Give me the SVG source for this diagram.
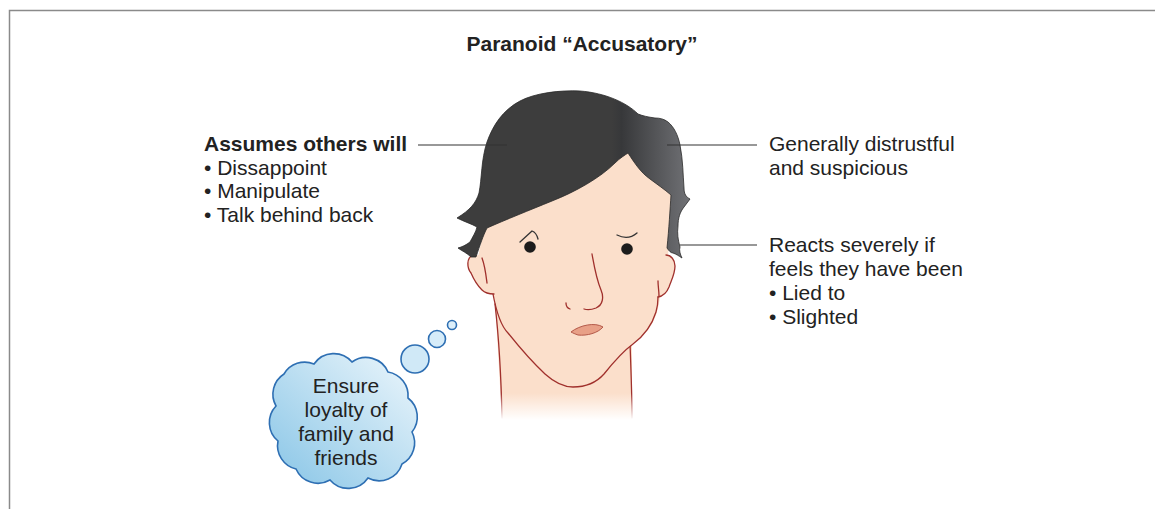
<svg xmlns="http://www.w3.org/2000/svg" width="1155" height="509" viewBox="0 0 1155 509">
  <style>
    .lbl { font-family: "Liberation Sans", Arial, sans-serif; font-size: 21px; fill: #222; }
    .bold { font-weight: bold; }
    .lead { stroke: #333; stroke-width: 1.2; fill: none; }
    .skinline { stroke: #a0302c; stroke-width: 1.3; fill: none; stroke-linecap: round; stroke-linejoin: round; }
    .bubble { stroke: #2e6fb3; stroke-width: 1.6; }
  </style>
  <defs>
    <linearGradient id="hairGrad" gradientUnits="userSpaceOnUse" x1="450" y1="0" x2="695" y2="0">
      <stop offset="0" stop-color="#3d3d3d"/>
      <stop offset="0.66" stop-color="#3d3d3d"/>
      <stop offset="0.70" stop-color="#37383a"/>
      <stop offset="1" stop-color="#75767a"/>
    </linearGradient>
    <linearGradient id="cloudGrad" x1="0" y1="1" x2="1" y2="0">
      <stop offset="0" stop-color="#86c4e6"/>
      <stop offset="1" stop-color="#eef7fc"/>
    </linearGradient>
    <linearGradient id="fadeOut" x1="0" y1="0" x2="0" y2="1">
      <stop offset="0" stop-color="#ffffff" stop-opacity="0"/>
      <stop offset="1" stop-color="#ffffff" stop-opacity="1"/>
    </linearGradient>
  </defs>

  <rect width="1155" height="509" fill="#ffffff"/>
  <!-- frame -->
  <path d="M9.5,509 V10.5 H1155" fill="none" stroke="#8a8a8a" stroke-width="1.5"/>

  <text class="lbl bold" x="582" y="51" text-anchor="middle">Paranoid “Accusatory”</text>

  <!-- head -->
  <g id="head">
    <!-- neck -->
    <path d="M495,300 L632,300 L632,420 L502,420 Z" fill="#fbdfcb"/>
    <path class="skinline" d="M495,304 C498,330 501,370 502,418"/>
    <path class="skinline" d="M630,343 C631,370 632,395 632,418"/>
    <!-- face -->
    <path d="M484,228 L500,200 L560,170 L620,148 L640,150 L675,185 L668,255 L660,297 C657,320 650,330 637,340 C625,350 610,365 600,378 C590,386 580,388 570,387 C550,384 540,370 525,352 C510,335 500,320 493,294 L478,257 Z" fill="#fbdfcb"/>
    <path class="skinline" d="M493,294 C496,310 500,325 508,333 C520,348 532,362 545,374 C555,383 565,387 573,387 C585,387 596,383 604,374 C612,364 622,352 633,344 C645,335 652,325 656,312 C658,305 658,300 658,297"/>
    <!-- ears -->
    <path d="M473,255 C466,258 467,268 471,273 C474,280 478,286 482,290 C485,293 489,294 494,294 L488,255 Z" fill="#fbdfcb"/>
    <path class="skinline" d="M473,255 C466,258 467,268 471,273 C474,280 478,286 482,290 C485,293 489,294 494,294"/>
    <path class="skinline" d="M482,258 C485,266 486,275 487,283"/>
    <path d="M666,255 C671,255 675,260 675,266 C675,274 671,281 669,287 C667,292 664,296 658,297 L660,255 Z" fill="#fbdfcb"/>
    <path class="skinline" d="M666,255 C671,255 675,260 675,266 C675,274 671,281 669,287 C667,292 664,296 658,297"/>
    <path class="skinline" d="M658,281 C658,286 659,291 659,296"/>
    <!-- hair -->
    <path d="M580,91 C560,90 535,93 520,101 C503,110 493,125 487,142 C481,160 482,178 479,193 C476,203 470,210 457,218 C465,222 472,224 477,227 C476,232 472,238 470,242 C466,245 462,247 458,248 C462,251 467,253 471,257 L476,257 C480,245 483,236 487,228 C505,220 530,210 552,201 C575,192 600,178 615,163 C620,158 625,155 628,153 C634,162 640,172 650,179 C658,185 664,189 671,195 C670,210 669,228 667,248 C669,251 671,253 673,253 C676,254 679,256 682,258 C680,254 679,250 680,247 C678,240 677,233 678,226 C678,218 680,212 684,207 C686,204 688,202 690,199 C686,197 684,194 684,188 C683,175 683,160 680,145 C678,135 674,127 668,122 C664,119 660,118 655,118 C648,117 643,116 638,114 C627,103 606,93 580,91 Z" fill="url(#hairGrad)" stroke="#2a2a2a" stroke-width="0.8" stroke-linejoin="round"/>
    <!-- brows -->
    <path d="M520,242 L532,231 C535,232 537,235 538,239" fill="none" stroke="#333" stroke-width="1.3" stroke-linecap="round" stroke-linejoin="round"/>
    <path d="M617,235 C623,238 630,239 637,233" fill="none" stroke="#333" stroke-width="1.3" stroke-linecap="round"/>
    <!-- eyes -->
    <circle cx="530" cy="247" r="5.8" fill="#1c1c1c"/>
    <circle cx="627" cy="249" r="5.8" fill="#1c1c1c"/>
    <!-- nose -->
    <path class="skinline" d="M592,254 C594,265 596,278 601,290 C604,297 603,305 596,308 C591,310 587,310 584,309"/>
    <path class="skinline" d="M566,303 C566,306 567,308 570,309"/>
    <!-- mouth -->
    <path d="M571,332 C580,325 595,322 603,327 C598,333 587,336 578,335 C575,334 573,333 571,332 Z" fill="#e8a087" stroke="#b45a4a" stroke-width="1" stroke-linejoin="round"/>
    <!-- fade at neck base -->
    <rect x="490" y="393" width="150" height="27" fill="url(#fadeOut)"/>
  </g>

  <!-- thought cloud -->
  <g id="thought">
    <circle class="bubble" cx="452" cy="325" r="4.5" fill="#dceffa"/>
    <circle class="bubble" cx="437" cy="339" r="8.5" fill="#d6ecf9"/>
    <circle class="bubble" cx="415" cy="359" r="14" fill="#d0e9f7"/>
    <path class="bubble" fill="url(#cloudGrad)" d="M284,374 A24,24 0 0 1 314,364 A24,24 0 0 1 352,362 A24,24 0 0 1 388,372 A24,24 0 0 1 408,398 A24,24 0 0 1 412,432 A24,24 0 0 1 402,464 A24,24 0 0 1 368,478 A24,24 0 0 1 330,480 A24,24 0 0 1 296,469 A24,24 0 0 1 278,441 A24,24 0 0 1 276,406 A24,24 0 0 1 284,374 Z"/>
    <text class="lbl" x="346" y="393" text-anchor="middle">Ensure</text>
    <text class="lbl" x="346" y="417" text-anchor="middle">loyalty of</text>
    <text class="lbl" x="346" y="441" text-anchor="middle">family and</text>
    <text class="lbl" x="346" y="465" text-anchor="middle">friends</text>
  </g>

  <!-- labels -->
  <g id="label-assumes">
    <text class="lbl bold" x="204" y="151">Assumes others will</text>
    <text class="lbl" x="204" y="175">• Dissappoint</text>
    <text class="lbl" x="204" y="198">• Manipulate</text>
    <text class="lbl" x="204" y="222">• Talk behind back</text>
  </g>
  <g id="label-distrust">
    <text class="lbl" x="769" y="151">Generally distrustful</text>
    <text class="lbl" x="769" y="175">and suspicious</text>
  </g>
  <g id="label-reacts">
    <text class="lbl" x="769" y="252">Reacts severely if</text>
    <text class="lbl" x="769" y="276">feels they have been</text>
    <text class="lbl" x="769" y="300">• Lied to</text>
    <text class="lbl" x="769" y="324">• Slighted</text>
  </g>

  <!-- leader lines -->
  <g id="connectors">
    <line class="lead" x1="418" y1="145" x2="507" y2="145"/>
    <line class="lead" x1="667" y1="145" x2="757" y2="145"/>
    <line class="lead" x1="680" y1="245" x2="757" y2="245"/>
  </g>
</svg>
